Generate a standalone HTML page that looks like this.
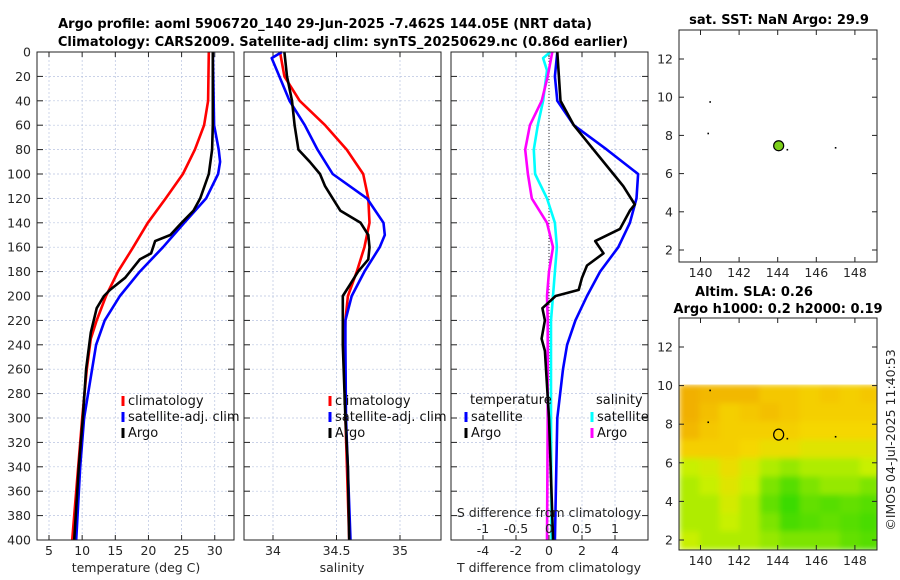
<!DOCTYPE html>
<html><head><meta charset="utf-8"><style>
body{margin:0;background:#fff;}
svg{display:block;font-family:"DejaVu Sans","Liberation Sans",sans-serif;}
</style></head><body>
<svg id="c" width="900" height="580" viewBox="0 0 900 580"></svg>
<script>
// ---- data ----
const tClimDepth=[0,40,60,80,100,120,140,160,180,200,220,235,260,300,340,380,400];
const tClimVal=[29.1,29.0,28.4,27.0,25.2,22.6,19.9,17.7,15.4,13.6,12.2,11.3,10.7,10.0,9.4,8.8,8.5];
const tSatDepth=[0,60,80,90,100,120,140,160,180,200,220,240,260,300,340,400];
const tSatVal=[29.7,29.9,30.6,30.8,30.5,28.7,25.4,22.2,18.7,15.7,13.4,12.1,11.5,10.3,9.7,9.1];
const tArgoDepth=[0,60,80,100,120,130,140,150,155,165,170,185,195,200,210,230,260,300,340,400];
const tArgoVal=[29.7,29.7,29.6,29.1,27.8,26.8,25.0,23.3,21.0,20.4,18.7,16.5,14.2,13.3,12.2,11.3,10.6,10.1,9.5,8.8];
const sClimDepth=[0,20,40,60,80,100,120,140,160,180,200,220,240,300,400];
const sClimVal=[34.055,34.09,34.21,34.41,34.58,34.71,34.75,34.76,34.72,34.66,34.59,34.57,34.565,34.57,34.6];
const sSatDepth=[0,5,15,40,60,80,100,120,140,150,160,180,200,220,240,300,400];
const sSatVal=[34.07,33.99,34.03,34.13,34.25,34.35,34.47,34.74,34.87,34.88,34.84,34.72,34.62,34.57,34.57,34.575,34.61];
const sArgoDepth=[0,20,40,60,80,90,100,110,120,130,140,150,160,170,180,190,200,220,240,300,340,400];
const sArgoVal=[34.09,34.11,34.15,34.17,34.2,34.29,34.37,34.41,34.47,34.53,34.69,34.75,34.76,34.75,34.67,34.61,34.55,34.55,34.55,34.57,34.59,34.6];
const dTSatDepth=[0,20,40,60,80,100,120,140,160,180,200,220,240,260,300,400];
const dTSatVal=[0.5,0.36,0.5,1.5,3.5,5.4,5.3,4.9,4.2,3.1,2.3,1.6,1.1,0.85,0.5,0.36];
const dTArgoDepth=[0,40,60,80,100,110,125,130,145,155,165,175,185,195,200,210,220,235,245,300,400];
const dTArgoVal=[0.5,0.7,1.5,2.7,3.9,4.5,5.2,4.9,4.3,2.8,3.3,2.3,2.0,1.8,0.4,-0.4,-0.25,-0.45,-0.25,0.0,0.25];
const dSSatDepth=[0,5,15,40,60,80,100,120,140,160,180,200,220,300,400];
const dSSatVal=[0.02,-0.09,-0.03,-0.09,-0.17,-0.23,-0.21,-0.03,0.09,0.12,0.09,0.06,0.03,0.03,0.04];
const dSArgoDepth=[0,20,40,60,80,100,120,140,160,180,200,220,300,400];
const dSArgoVal=[0.05,-0.02,-0.11,-0.29,-0.36,-0.32,-0.26,-0.03,0.06,0.0,-0.03,-0.02,-0.02,-0.03];
const depthTicks=[0,20,40,60,80,100,120,140,160,180,200,220,240,260,280,300,320,340,360,380,400];
const tTicks=[5,10,15,20,25,30];
const sTicks=[34,34.5,35];
const dTTicks=[-4,-2,0,2,4];
const dSTicks=[-1,-0.5,0,0.5,1];
const lonTicks=[140,142,144,146,148];
const latTicks=[2,4,6,8,10,12];
const slaGrid=[
[0.1,0.15,0.15,0.15,0.25,0.25,0.3,0.25,0.3,0.25],
[0.1,0.2,0.3,0.25,0.2,0.25,0.3,0.3,0.3,0.3],
[0.15,0.25,0.3,0.3,0.3,0.3,0.35,0.35,0.35,0.35],
[0.3,0.3,0.3,0.35,0.4,0.4,0.45,0.45,0.45,0.45],
[0.55,0.5,0.4,0.5,0.6,0.65,0.6,0.6,0.6,0.55],
[0.6,0.55,0.45,0.55,0.7,0.8,0.7,0.65,0.65,0.7],
[0.6,0.6,0.5,0.6,0.75,0.9,0.75,0.8,0.75,0.8],
[0.6,0.6,0.55,0.6,0.7,0.85,0.8,0.75,0.8,0.85],
[0.55,0.6,0.6,0.6,0.65,0.7,0.7,0.7,0.75,0.8]];
const argoLon=144.05, argoLat=7.46;
const otherLon=[140.5,140.4,144.5,147.0];
const otherLat=[9.75,8.1,7.25,7.35];

const NS="http://www.w3.org/2000/svg";
const svg=document.getElementById('c');
function mk(tag,attrs,parent){const e=document.createElementNS(NS,tag);for(const k in attrs)e.setAttribute(k,attrs[k]);(parent||svg).appendChild(e);return e;}
function txt(s,x,y,attrs,parent){const e=mk('text',Object.assign({x:x,y:y,'font-size':12,fill:'#262626'},attrs||{}),parent);e.textContent=s;return e;}

const PY0=52,PY1=540;
const yD=d=>PY0+(PY1-PY0)*d/400;
function panel(x0,x1,name){
  const g=mk('g',{});
  
  
  mk('rect',{x:x0,y:PY0,width:x1-x0,height:PY1-PY0,fill:'#fff'},g);
  depthTicks.forEach(d=>{
    if(d>0&&d<400)mk('line',{x1:x0,x2:x1,y1:yD(d),y2:yD(d),stroke:'#b8c4e0','stroke-width':0.7,'stroke-dasharray':'2,2'},g);
    mk('line',{x1:x0,x2:x0+6,y1:yD(d),y2:yD(d),stroke:'#222'},g);
    mk('line',{x1:x1-6,x2:x1,y1:yD(d),y2:yD(d),stroke:'#222'},g);
  });
  return g;
}
function vgrid(g,xs){xs.forEach(x=>{mk('line',{x1:x,x2:x,y1:PY0,y2:PY1,stroke:'#b8c4e0','stroke-width':0.7,'stroke-dasharray':'2,2'},g);mk('line',{x1:x,x2:x,y1:PY1-5,y2:PY1,stroke:'#222'},g);mk('line',{x1:x,x2:x,y1:PY0,y2:PY0+5,stroke:'#222'},g);});}
function frame(g,x0,x1){mk('rect',{x:x0,y:PY0,width:x1-x0,height:PY1-PY0,fill:'none',stroke:'#222','stroke-width':1},g);}
function line(g,xs,ds,fx,color,name,w){
  const pts=ds.map((d,i)=>fx(xs[i]).toFixed(1)+','+yD(d).toFixed(1)).join(' ');
  const p=mk('polyline',{points:pts,fill:'none',stroke:color,'stroke-width':w||2.6,'stroke-linejoin':'round'},g);
  
  
}
function legend(g,x,y,color,label,name){
  const le=mk('g',{},g);
  
  
  mk('line',{x1:x,x2:x,y1:y-9,y2:y+1,stroke:color,'stroke-width':3},le);
  txt(label,x+5,y,{'font-size':13,fill:'#111'},le);
}

// titles
txt('Argo profile: aoml 5906720_140 29-Jun-2025 -7.462S 144.05E (NRT data)',325,28,{'text-anchor':'middle','font-weight':'bold','font-size':13,fill:'#000'});
txt('Climatology: CARS2009. Satellite-adj clim: synTS_20250629.nc (0.86d earlier)',343,46,{'text-anchor':'middle','font-weight':'bold','font-size':13,fill:'#000'});

// Panel 1: temperature
const xT=t=>49+(t-5)*6.63;
const g1=panel(37,234,'temperature-panel');
vgrid(g1,tTicks.map(xT));
line(g1,tClimVal,tClimDepth,xT,'#ff0000','temp-climatology-line');
line(g1,tSatVal,tSatDepth,xT,'#0000ff','temp-satellite-line');
line(g1,tArgoVal,tArgoDepth,xT,'#000','temp-argo-line');
frame(g1,37,234);
depthTicks.forEach(d=>txt(String(d),31,yD(d)+4.5,{'text-anchor':'end','font-size':12.5}));
tTicks.forEach(t=>txt(String(t),xT(t),555,{'text-anchor':'middle','font-size':12.5}));
txt('temperature (deg C)',136,572,{'text-anchor':'middle','font-size':12.5});
legend(g1,123,405,'#ff0000','climatology','legend-climatology');
legend(g1,123,421,'#0000ff','satellite-adj. clim','legend-satellite');
legend(g1,123,437,'#000','Argo','legend-argo');

// Panel 2: salinity
const xS=s=>273+(s-34)*127;
const g2=panel(244,441,'salinity-panel');
vgrid(g2,sTicks.map(xS));
line(g2,sClimVal,sClimDepth,xS,'#ff0000','sal-climatology-line');
line(g2,sSatVal,sSatDepth,xS,'#0000ff','sal-satellite-line');
line(g2,sArgoVal,sArgoDepth,xS,'#000','sal-argo-line');
frame(g2,244,441);
sTicks.forEach(s=>txt(String(s),xS(s),555,{'text-anchor':'middle','font-size':12.5}));
txt('salinity',342,572,{'text-anchor':'middle','font-size':12.5});
legend(g2,330,405,'#ff0000','climatology','legend-climatology-2');
legend(g2,330,421,'#0000ff','satellite-adj. clim','legend-satellite-2');
legend(g2,330,437,'#000','Argo','legend-argo-2');

// Panel 3: differences
const xdT=v=>549+v*16.5;
const xdS=v=>549+v*66;
const g3=panel(451,648,'difference-panel');
vgrid(g3,dTTicks.map(xdT));
mk('line',{x1:549,x2:549,y1:PY0,y2:yD(270),stroke:'#333','stroke-width':1,'stroke-dasharray':'1,2'},g3);
line(g3,dSSatVal,dSSatDepth,xdS,'#00ffff','sdiff-satellite-line');
line(g3,dSArgoVal,dSArgoDepth,xdS,'#ff00ff','sdiff-argo-line');
line(g3,dTSatVal,dTSatDepth,xdT,'#0000ff','tdiff-satellite-line');
line(g3,dTArgoVal,dTArgoDepth,xdT,'#000','tdiff-argo-line');
frame(g3,451,648);
dTTicks.forEach(v=>txt(String(v),xdT(v),555,{'text-anchor':'middle','font-size':12.5}));
dSTicks.forEach(v=>txt(String(v),xdS(v),533,{'text-anchor':'middle','font-size':12.5}));
txt('S difference from climatology',549,517,{'text-anchor':'middle','font-size':12.5});
txt('T difference from climatology',549,572,{'text-anchor':'middle','font-size':12.5});
txt('temperature',470,404,{'font-size':13,fill:'#111'});
txt('salinity',596,404,{'font-size':13,fill:'#111'});
legend(g3,466,421,'#0000ff','satellite','legend-tdiff-satellite');
legend(g3,466,437,'#000','Argo','legend-tdiff-argo');
legend(g3,592,421,'#00ffff','satellite','legend-sdiff-satellite');
legend(g3,592,437,'#ff00ff','Argo','legend-sdiff-argo');

// Maps
const lyTop=l=>250-(l-2)*19.1;
const lyBot=l=>540-(l-2)*19.3;
const lx=l=>700.5+(l-140)*19.3;
function drawMap(name){
  const g=mk('g',{});
  
  
  return g;
}
const gm1=drawMap('sst-map');
const gm2=drawMap('sla-map');
const defs=mk('defs',{});
const flt=mk('filter',{id:'blur',x:'0',y:'0',width:'1',height:'1'},defs);
mk('feGaussianBlur',{stdDeviation:'3',edgeMode:'duplicate'},flt);
const cp=mk('clipPath',{id:'slaclip'},defs);
mk('rect',{x:679,y:384,width:198,height:166},cp);
const stops=[[0,[240,160,0]],[0.35,[245,215,0]],[0.55,[200,240,0]],[0.75,[100,224,0]],[1,[30,215,10]]];
function cmap(v){for(let i=1;i<stops.length;i++){if(v<=stops[i][0]){const a=stops[i-1],b=stops[i];const t=(v-a[0])/(b[0]-a[0]);const c=a[1].map((q,k)=>Math.round(q+(b[1][k]-q)*t));return 'rgb('+c.join(',')+')';}}return 'rgb(30,215,10)';}
const latTop=10.05,latBot=1.5,lonL=138.9,lonR=149.3;
const nr=slaGrid.length,nc=slaGrid[0].length;
const clipG=mk('g',{'clip-path':'url(#slaclip)'},gm2);
const heat=mk('g',{filter:'url(#blur)'},clipG);
slaGrid.forEach((row,i)=>row.forEach((v,j)=>{
  const la0=latTop-(latTop-latBot)*i/nr, la1=latTop-(latTop-latBot)*(i+1)/nr;
  const lo0=lonL+(lonR-lonL)*j/nc, lo1=lonL+(lonR-lonL)*(j+1)/nc;
  const r=mk('rect',{x:lx(lo0),y:lyBot(la0),width:lx(lo1)-lx(lo0)+0.6,height:lyBot(la1)-lyBot(la0)+0.6,fill:cmap(v)},heat);
  
  
}));
[[gm1,30,262,lyTop],[gm2,318,550,lyBot]].forEach(([g,y0,y1,ly])=>{
  mk('rect',{x:679,y:y0,width:198,height:y1-y0,fill:'none',stroke:'#222'},g);
  lonTicks.forEach(l=>{mk('line',{x1:lx(l),x2:lx(l),y1:y1-5,y2:y1,stroke:'#222'},g);mk('line',{x1:lx(l),x2:lx(l),y1:y0,y2:y0+5,stroke:'#222'},g);txt(String(l),lx(l),y1+15,{'text-anchor':'middle','font-size':12.5},g);});
  latTicks.forEach(l=>{mk('line',{x1:679,x2:684,y1:ly(l),y2:ly(l),stroke:'#222'},g);mk('line',{x1:872,x2:877,y1:ly(l),y2:ly(l),stroke:'#222'},g);txt(String(l),673,ly(l)+4.5,{'text-anchor':'end','font-size':12.5},g);});
  otherLon.forEach((lo,i)=>mk('rect',{x:lx(lo)-0.8,y:ly(otherLat[i])-0.8,width:1.6,height:1.6,fill:'#000'},g));
});
const m1=mk('circle',{cx:lx(argoLon),cy:lyTop(argoLat),r:5,fill:'#7ccf1a',stroke:'#000','stroke-width':1.2},gm1);


const m2=mk('ellipse',{cx:lx(argoLon),cy:lyBot(argoLat),rx:5,ry:5.5,fill:'none',stroke:'#000','stroke-width':1.2},gm2);


txt('sat. SST: NaN Argo: 29.9',779,24,{'text-anchor':'middle','font-weight':'bold','font-size':13,fill:'#000'});
txt('Altim. SLA: 0.26',754,296,{'text-anchor':'middle','font-weight':'bold','font-size':13,fill:'#000'});
txt('Argo h1000: 0.2 h2000: 0.19',778,313,{'text-anchor':'middle','font-weight':'bold','font-size':13,fill:'#000'});
const cr=txt('©IMOS 04-Jul-2025 11:40:53',0,0,{'text-anchor':'middle','font-size':12.5,transform:'translate(895,440) rotate(-90)'});

</script>
</body></html>
